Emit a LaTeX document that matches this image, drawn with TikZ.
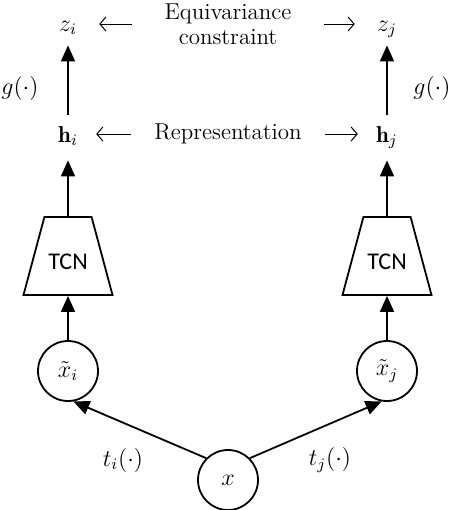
\documentclass[tikz,border=0pt]{standalone}
\usepackage{fontspec}
\newfontfamily\tcnfont{Carlito}
\usetikzlibrary{positioning, arrows.meta, shapes.geometric}
\tikzset{
  font=\fontsize{11.5}{12.5}\selectfont,
  datanode/.style={draw, circle, line width=0.9pt, minimum size=30pt, inner sep=0pt},
  tcn/.style={draw, trapezium, trapezium angle=75, trapezium stretches body,
    minimum width=44.5pt, text height=13.5pt, text depth=0pt, inner xsep=0pt, inner ysep=12.75pt,
    line width=0.9pt, font=\tcnfont\fontsize{12}{14}\selectfont},
  var/.style={inner sep=3pt, text height=10.5pt, text depth=4pt, anchor=base},
  flow/.style={-{Triangle[width=7pt,length=8pt]}, line width=0.9pt},
  link/.style={-{Straight Barb[length=3pt,width=7pt]}, line width=0.5pt}
}

\begin{document}
\begin{tikzpicture}[x=0.5pt, y=-0.5pt]
    \useasboundingbox (0,0) rectangle (452,510);
    % input and augmented views
    \node[datanode] (x) at (228,480) {$x$};
    \node[datanode] (xti) at (68,371) {$\tilde{x}_i$};
    \node[datanode] (xtj) at (387,371) {$\tilde{x}_j$};
    % encoders
    \node[tcn] (tcni) at (68,256) {TCN};
    \node[tcn] (tcnj) at (387,256) {TCN};
    % representations and projections
    \node[var] (hi) at (68,142) {$\mathbf{h}_i$};
    \node[var] (hj) at (387,142) {$\mathbf{h}_j$};
    \node[var] (zi) at (68,31) {$z_i$};
    \node[var] (zj) at (387,31) {$z_j$};
    \node (rep) at (228,134) {Representation};
    \node[align=center] (eqc) at (228,24) {Equivariance\\constraint};
    % function labels
    \node (gi) at (20,88) {$g(\cdot)$};
    \node (gj) at (432,88) {$g(\cdot)$};
    \node (ti) at (123,460) {$t_i(\cdot)$};
    \node (tj) at (330,460) {$t_j(\cdot)$};

    \draw[flow] (x.135) -- (xti.-80);
    \draw[flow] (x.45) -- (xtj.-100);
    \draw[flow] (xti) -- (tcni.south);
    \draw[flow] (xtj) -- (tcnj.south);
    \draw[flow, shorten >=2pt] (tcni.north) -- (hi.south);
    \draw[flow, shorten >=2pt] (tcnj.north) -- (hj.south);
    \draw[flow] (hi.north) -- (zi.south);
    \draw[flow] (hj.north) -- (zj.south);
    \draw[link, shorten <=13pt, shorten >=8pt] (eqc.west) -- (zi.east |- eqc.west);
    \draw[link, shorten <=13pt, shorten >=8pt] (eqc.east) -- (zj.west |- eqc.east);
    \draw[link, shorten <=8pt, shorten >=6pt] (rep.west) -- (hi.east |- rep.west);
    \draw[link, shorten <=8pt, shorten >=6pt] (rep.east) -- (hj.west |- rep.east);
\end{tikzpicture}
\end{document}
